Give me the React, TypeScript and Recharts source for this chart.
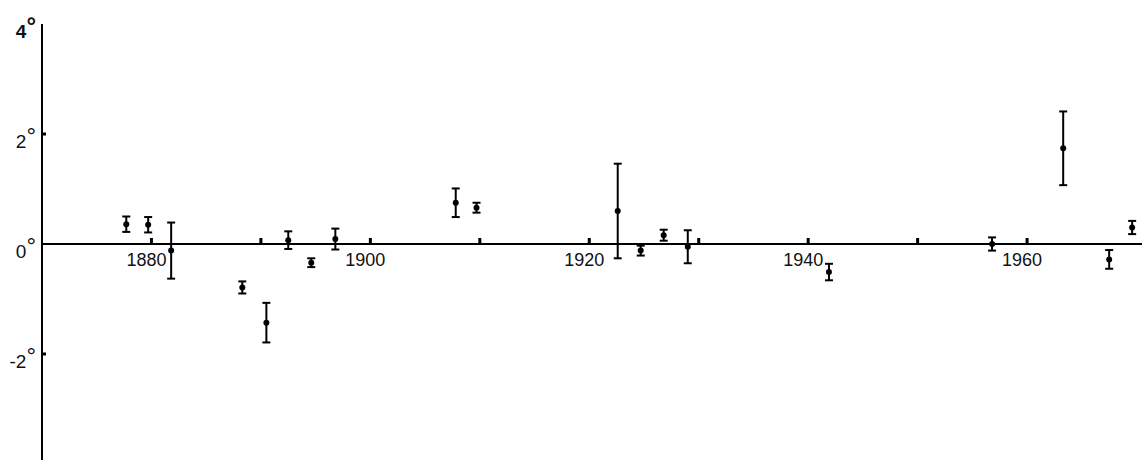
import React from 'react';
import { ComposedChart, Scatter, XAxis, YAxis, ErrorBar, ReferenceLine } from 'recharts';

// Observation years, deviations (degrees) and error half-widths
const years = [1877.7, 1879.7, 1881.8, 1888.3, 1890.5, 1892.5, 1894.6, 1896.8, 1907.8, 1909.7, 1922.6, 1924.7, 1926.8, 1929.0, 1941.9, 1956.8, 1963.3, 1967.5, 1969.6];
const values = [0.36, 0.35, -0.12, -0.79, -1.43, 0.07, -0.34, 0.09, 0.75, 0.66, 0.60, -0.12, 0.16, -0.05, -0.51, 0.0, 1.74, -0.28, 0.30];
const errors = [0.14, 0.14, 0.51, 0.11, 0.36, 0.16, 0.08, 0.19, 0.26, 0.09, 0.86, 0.09, 0.10, 0.30, 0.15, 0.12, 0.67, 0.17, 0.12];

// x-axis tick marks (drawn on the zero line) and their labels
const tickYears = [1880, 1890, 1900, 1910, 1920, 1930, 1940, 1950, 1960];
const tickLabels = ['1880', '', '1900', '', '1920', '', '1940', '', '1960'];

// y-axis ticks
const yTicks = [4, 2, 0, -2];
const yTickLabels = ['4', '2', '0', '-2'];

const points = years.map((year, i) => ({ year, value: values[i], err: errors[i] }));
const tickData = tickYears.map((year, i) => ({ year, value: 0, label: tickLabels[i] }));

const FONT = '"Liberation Sans", Arial, sans-serif';

const Dot = (props: any) => {
  const { cx, cy } = props;
  if (cx == null || cy == null) return null;
  return <circle cx={cx} cy={cy} r={3} fill="#000" />;
};

const XTickMark = (props: any) => {
  const { cx, cy, payload } = props;
  if (cx == null || cy == null) return null;
  return (
    <g>
      <rect x={cx - 1.5} y={cy - 6} width={3} height={6} fill="#000" />
      {payload.label ? (
        <text x={cx - 5} y={cy + 22} textAnchor="middle" fontSize={18} fontFamily={FONT} fill="#111">
          {payload.label}
        </text>
      ) : null}
    </g>
  );
};

const YTick = (props: any) => {
  const { x, y, payload } = props;
  const idx = yTicks.indexOf(payload.value);
  const label = idx >= 0 ? yTickLabels[idx] : String(payload.value);
  const stub = payload.value === 2 || payload.value === -2;
  return (
    <g>
      {stub ? <rect x={x} y={y - 1.5} width={4} height={3} fill="#000" /> : null}
      <text x={x - 6} y={y + 14} textAnchor="end" fontSize={19} fontFamily={FONT} fill="#111" fontWeight={payload.value === 4 ? 700 : 400}>
        {label}
        <tspan dy={-4} fontSize={24}>°</tspan>
      </text>
    </g>
  );
};

export default function App() {
  return (
    <div style={{ position: 'absolute', left: 0, top: 0, width: 1142, height: 460, overflow: 'hidden', background: '#fff' }}>
      <ComposedChart width={1142} height={480} margin={{ top: 24, right: 0, bottom: 16, left: 0 }}>
        <XAxis dataKey="year" type="number" domain={[1870, 1970.5]} hide allowDataOverflow />
        <YAxis
          type="number"
          domain={[-4, 4]}
          ticks={yTicks}
          width={42}
          tickSize={0}
          tickMargin={0}
          tickLine={false}
          axisLine={{ stroke: '#000', strokeWidth: 2 }}
          tick={<YTick />}
          interval={0}
        />
        <ReferenceLine y={0} stroke="#000" strokeWidth={2} ifOverflow="extendDomain" />
        <Scatter data={tickData} dataKey="value" shape={<XTickMark />} isAnimationActive={false} />
        <Scatter data={points} dataKey="value" shape={<Dot />} isAnimationActive={false}>
          <ErrorBar dataKey="err" direction="y" width={4} stroke="#000" strokeWidth={2} />
        </Scatter>
      </ComposedChart>
    </div>
  );
}
